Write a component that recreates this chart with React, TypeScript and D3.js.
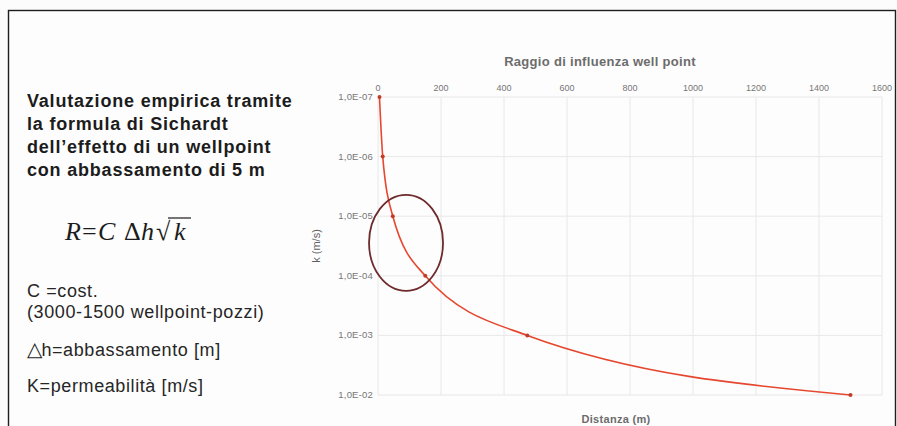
import * as d3 from 'd3'

// Sichardt: R = C * Δh * sqrt(k), C = 3000, Δh = 5 m
const permeability = [1e-7, 1e-6, 1e-5, 1e-4, 1e-3, 1e-2]
const distance = [4.7, 15, 47, 150, 474, 1500]
const xTicks = [0, 200, 400, 600, 800, 1000, 1200, 1400, 1600]
const yTicks = [1e-7, 1e-6, 1e-5, 1e-4, 1e-3, 1e-2]
const yTickLabels = ['1,0E-07', '1,0E-06', '1,0E-05', '1,0E-04', '1,0E-03', '1,0E-02']
// circled zone (centre in data units, radii in px)
const highlight = { x: 89, k: 2.8e-5, rx: 37, ry: 48 }

const titleLines = [
  'Valutazione empirica tramite',
  'la formula di Sichardt',
  'dell\u2019effetto di un wellpoint',
  'con abbassamento di 5 m',
]

const W = 897
const H = 426

export default function App() {
  const x = d3.scaleLinear().domain([0, 1600]).range([378, 882])
  const y = d3.scaleLog().domain([1e-7, 1e-2]).range([97, 395])

  const pts = distance.map((d, i) => ({ d, k: permeability[i] }))
  const line = d3
    .line<{ d: number; k: number }>()
    .x((p) => x(p.d))
    .y((p) => y(p.k))
    .curve(d3.curveMonotoneX)

  const sans = '"Liberation Sans", Arial, sans-serif'
  const serif = '"Liberation Serif", "Times New Roman", serif'

  return (
    <div style={{ position: 'fixed', left: 0, top: 0 }}>
      <svg width={W} height={H} style={{ display: 'block', background: '#fcfcfc' }}>
        <rect x={8.5} y={10.5} width={887} height={430} fill="#fdfdfd" stroke="#1e1e1e" strokeWidth={1.4} />

        {/* left text block */}
        {titleLines.map((t, i) => (
          <text key={t} x={27} y={107 + i * 23} fontFamily={sans} fontWeight={700} fontSize={18} letterSpacing={0.8} fill="#1c1c1c">
            {t}
          </text>
        ))}

        <text y={240} fontFamily={serif} fontSize={26} fill="#1c1c1c">
          <tspan x={65} fontStyle="italic">R</tspan>
          <tspan x={82}>=</tspan>
          <tspan x={98} fontStyle="italic">C</tspan>
          <tspan x={124}>Δ</tspan>
          <tspan x={141} fontStyle="italic">h</tspan>
          <tspan x={156}>√</tspan>
          <tspan x={174} fontStyle="italic">k</tspan>
        </text>
        <line x1={168} x2={191} y1={218} y2={218} stroke="#1c1c1c" strokeWidth={1.2} />

        <g fontFamily={sans} fontSize={18} letterSpacing={0.6} fill="#262626">
          <text x={27} y={297}>C =cost.</text>
          <text x={27} y={318}>(3000-1500 wellpoint-pozzi)</text>
          <text x={27} y={356}>
            <tspan fontFamily='"DejaVu Sans", sans-serif' fontSize={20} letterSpacing={-1}>△</tspan>h=abbassamento [m]
          </text>
          <text x={27} y={392}>K=permeabilità [m/s]</text>
        </g>

        {/* grid */}
        <g stroke="#e8e8e8" strokeWidth={1}>
          {xTicks.map((t) => (
            <line key={'vx' + t} x1={x(t)} x2={x(t)} y1={y(1e-7)} y2={y(1e-2)} />
          ))}
          {yTicks.map((t) => (
            <line key={'hy' + t} x1={x(0)} x2={x(1600)} y1={y(t)} y2={y(t)} />
          ))}
        </g>

        {/* axis labels */}
        <g fontFamily={sans} fill="#767676">
          {xTicks.map((t) => (
            <text key={'tx' + t} x={x(t)} y={91} textAnchor="middle" fontSize={9}>
              {t}
            </text>
          ))}
          {yTicks.map((t, i) => (
            <text key={'ty' + t} x={373} y={y(t) + 3} textAnchor="end" fontSize={9.5} letterSpacing={0.2}>
              {yTickLabels[i]}
            </text>
          ))}
        </g>
        <text x={600} y={66} textAnchor="middle" fontFamily={sans} fontWeight={700} fontSize={13} letterSpacing={0.3} fill="#6c6c6c">
          Raggio di influenza well point
        </text>
        <text x={616} y={423} textAnchor="middle" fontFamily={sans} fontWeight={700} fontSize={11} letterSpacing={0.3} fill="#6c6c6c">
          Distanza (m)
        </text>
        <text
          transform={`translate(320,${(y(1e-5) + y(1e-4)) / 2}) rotate(-90)`}
          textAnchor="middle"
          fontFamily={sans}
          fontSize={11}
          fill="#606060"
        >
          k (m/s)
        </text>

        {/* series */}
        <path d={line(pts) ?? ''} fill="none" stroke="#e5472f" strokeWidth={1.6} />
        {pts.map((p) => (
          <circle key={p.d} cx={x(p.d)} cy={y(p.k)} r={2} fill="#c43a28" />
        ))}

        <ellipse
          cx={x(highlight.x)}
          cy={y(highlight.k)}
          rx={highlight.rx}
          ry={highlight.ry}
          fill="none"
          stroke="#6e2a2c"
          strokeWidth={1.8}
        />
      </svg>
    </div>
  )
}
